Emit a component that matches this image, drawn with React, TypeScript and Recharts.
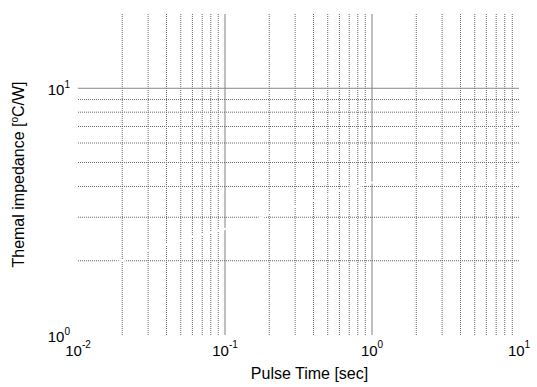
import React from 'react';
import { LineChart, Line, XAxis, YAxis, ReferenceLine } from 'recharts';

const pulseTime = [0.0173, 0.02, 0.03, 0.04, 0.05, 0.06, 0.07, 0.08, 0.09, 0.1, 0.18, 0.2, 0.3, 0.4, 0.5, 0.6, 0.7, 0.8, 1.0, 2, 10];
const impedance = [1.96, 2.0, 2.21, 2.32, 2.43, 2.5, 2.55, 2.6, 2.64, 2.69, 3.0, 3.12, 3.33, 3.52, 3.68, 3.86, 3.96, 4.0, 4.15, 4.18, 4.2];

const xTicks = [0.01, 0.1, 1, 10];
const yTicks = [1, 10];
const xMinor = [0.02, 0.03, 0.04, 0.05, 0.06, 0.07, 0.08, 0.09, 0.2, 0.3, 0.4, 0.5, 0.6, 0.7, 0.8, 0.9, 2, 3, 4, 5, 6, 7, 8, 9];
const xMajor = [0.1, 1];
const yMinor = [2, 3, 4, 5, 6, 7, 8, 9];
const yMajor = [10];

const data = pulseTime.map((t, i) => ({ t, z: impedance[i] }));

const FONT = '"Liberation Sans", Arial, sans-serif';

const XTick = (props: any) => {
  const { x, y, payload } = props;
  const e = Math.round(Math.log10(payload.value));
  return (
    <text x={x} y={y + 21} textAnchor="middle" fontFamily={FONT} fontSize={15} fill="#000">
      <tspan>10</tspan>
      <tspan fontSize={10} dy={-8}>{String(e)}</tspan>
    </text>
  );
};

const YTick = (props: any) => {
  const { x, y, payload } = props;
  const e = Math.round(Math.log10(payload.value));
  return (
    <text x={x - 8} y={y + 6.5} textAnchor="end" fontFamily={FONT} fontSize={15} fill="#000">
      <tspan>10</tspan>
      <tspan fontSize={10} dy={-7}>{String(e)}</tspan>
    </text>
  );
};

export default function App() {
  return (
    <div style={{ position: 'absolute', left: 0, top: 0, width: 537, height: 387, background: '#fff' }}>
      <LineChart width={537} height={387} data={data} margin={{ top: 14, right: 18, bottom: 0, left: 0 }}>
        <XAxis
          dataKey="t"
          type="number"
          scale="log"
          domain={[0.01, 10]}
          ticks={xTicks}
          allowDataOverflow
          axisLine={false}
          tickLine={false}
          tickSize={0}
          tickMargin={0}
          height={52}
          tick={<XTick />}
          interval={0}
          label={(p: any) => {
            const vb = p.viewBox;
            return (
              <text x={vb.x + vb.width / 2 + 11} y={379} textAnchor="middle" fontFamily={FONT} fontSize={16} fill="#000">
                Pulse Time [sec]
              </text>
            );
          }}
        />
        <YAxis
          type="number"
          scale="log"
          domain={[1, 20]}
          ticks={yTicks}
          allowDataOverflow
          axisLine={false}
          tickLine={false}
          tickSize={0}
          tickMargin={0}
          width={78}
          tick={<YTick />}
          interval={0}
          label={(p: any) => {
            const vb = p.viewBox;
            const cy = vb.y + vb.height / 2;
            return (
              <text x={24} y={cy} transform={`rotate(-90 24 ${cy})`} textAnchor="middle" fontFamily={FONT} fontSize={16} fill="#000">
                <tspan>Themal impedance [</tspan>
                <tspan fontSize={10} dy={-6}>o</tspan>
                <tspan dy={6}>C/W]</tspan>
              </text>
            );
          }}
        />
        {xMinor.map((v) => (
          <ReferenceLine key={'xm' + v} x={v} stroke="#666" strokeWidth={1} strokeDasharray="1 1" />
        ))}
        {xMajor.map((v) => (
          <ReferenceLine key={'xM' + v} x={v} stroke="#aaa" strokeWidth={1.5} />
        ))}
        {yMinor.map((v) => (
          <ReferenceLine key={'ym' + v} y={v} stroke="#666" strokeWidth={1} strokeDasharray="1 1" />
        ))}
        {yMajor.map((v) => (
          <ReferenceLine key={'yM' + v} y={v} stroke="#888" strokeWidth={1} />
        ))}
        <Line dataKey="z" stroke="#ffffff" strokeWidth={2} dot={false} type="linear" isAnimationActive={false} />
      </LineChart>
    </div>
  );
}
